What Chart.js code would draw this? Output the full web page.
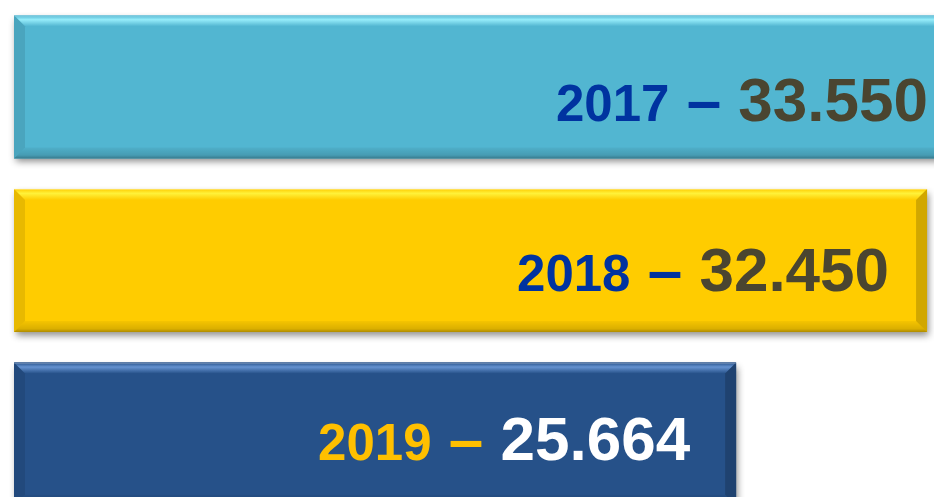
<!DOCTYPE html>
<html>
<head>
<meta charset="utf-8">
<script src="https://cdn.jsdelivr.net/npm/chart.js@4.4.1/dist/chart.umd.min.js"></script>
<style>
  html, body { margin: 0; padding: 0; background: #fff; overflow: hidden; }
  #wrap { position: absolute; left: 0; top: 0; width: 960px; height: 521px; }
</style>
</head>
<body>
<div id="wrap"><canvas id="yearsChart"></canvas></div>
<script>
// ===== DATA =====
const years = ['2017', '2018', '2019'];
const totals = [33550, 32450, 25664];

// ===== STYLE =====
const barColors = ['#52B6D1', '#FFCC00', '#265189'];
const highlightColors = ['#96ECFA', '#FFF23A', '#6592D0'];
const yearColors = ['#0033A0', '#0033A0', '#FFC000'];
const totalColors = ['#4A4530', '#4A4530', '#FFFFFF'];

function formatTotal(v) {
    return String(v).replace(/\B(?=(\d{3})+(?!\d))/g, '.');
}

// soft drop shadow under each bar
const shadowPlugin = {
    id: 'barShadow',
    beforeDatasetsDraw(chart) {
        const ctx = chart.ctx;
        const bars = chart.getDatasetMeta(0).data;
        ctx.save();
        bars.forEach(function(bar, i){
            const top = bar.y - bar.height / 2;
            ctx.shadowColor = 'rgba(0,0,0,0.45)';
            ctx.shadowBlur = 7;
            ctx.shadowOffsetX = 2;
            ctx.shadowOffsetY = 4;
            ctx.fillStyle = barColors[i];
            ctx.fillRect(bar.base, top, bar.x - bar.base, bar.height);
        });
        ctx.restore();
    }
};

// bevelled edges + year/total labels
const bevelPlugin = {
    id: 'bevel',
    afterDatasetsDraw(chart) {
        const ctx = chart.ctx;
        const bars = chart.getDatasetMeta(0).data;
        const b = 11;
        bars.forEach(function(bar, i){
            const l = bar.base, r = bar.x;
            const t = bar.y - bar.height / 2, btm = bar.y + bar.height / 2;
            ctx.save();

            // top edge (light band)
            let g = ctx.createLinearGradient(0, t, 0, t + b);
            g.addColorStop(0, barColors[i]);
            g.addColorStop(0.4, highlightColors[i]);
            g.addColorStop(1, barColors[i]);
            ctx.fillStyle = g;
            ctx.beginPath();
            ctx.moveTo(l, t); ctx.lineTo(r, t); ctx.lineTo(r - b, t + b); ctx.lineTo(l + b, t + b);
            ctx.closePath(); ctx.fill();
            ctx.fillStyle = 'rgba(255,255,255,0.35)';
            ctx.fillRect(l, t, r - l, 1);

            // left edge
            ctx.fillStyle = 'rgba(0,0,0,0.09)';
            ctx.beginPath();
            ctx.moveTo(l, t); ctx.lineTo(l + b, t + b); ctx.lineTo(l + b, btm - b); ctx.lineTo(l, btm);
            ctx.closePath(); ctx.fill();

            // right edge
            ctx.fillStyle = 'rgba(0,0,0,0.18)';
            ctx.beginPath();
            ctx.moveTo(r, t); ctx.lineTo(r - b, t + b); ctx.lineTo(r - b, btm - b); ctx.lineTo(r, btm);
            ctx.closePath(); ctx.fill();

            // bottom edge (dark)
            g = ctx.createLinearGradient(0, btm - b, 0, btm);
            g.addColorStop(0, 'rgba(0,0,0,0.04)');
            g.addColorStop(0.7, 'rgba(0,0,0,0.14)');
            g.addColorStop(1, 'rgba(0,0,0,0.32)');
            ctx.fillStyle = g;
            ctx.beginPath();
            ctx.moveTo(l, btm); ctx.lineTo(r, btm); ctx.lineTo(r - b, btm - b); ctx.lineTo(l + b, btm - b);
            ctx.closePath(); ctx.fill();

            // label: "year – total", right aligned inside the bar
            const yearFont = 'bold 51px "Liberation Sans", Arial, sans-serif';
            const bigFont = 'bold 62px "Liberation Sans", Arial, sans-serif';
            const totalText = formatTotal(totals[i]);
            const dashText = ' \u2013 ';
            ctx.font = bigFont;
            const wTotal = ctx.measureText(totalText).width;
            const wDash = ctx.measureText(dashText).width;
            ctx.font = yearFont;
            const wYear = ctx.measureText(years[i]).width;
            const right = Math.min(r, chart.chartArea.right) - 30 - i * 8;
            const baseline = bar.y + 34 - i * 4;
            let x = right - wTotal - wDash - wYear;
            ctx.textBaseline = 'alphabetic';
            ctx.textAlign = 'left';
            ctx.fillStyle = yearColors[i];
            ctx.fillText(years[i], x, baseline);
            x += wYear;
            ctx.font = bigFont;
            ctx.fillText(dashText, x, baseline);
            x += wDash;
            ctx.fillStyle = totalColors[i];
            ctx.fillText(totalText, x, baseline);

            ctx.restore();
        });
    }
};

const ctx = document.getElementById('yearsChart').getContext('2d');

new Chart(ctx, {
    type: 'bar',
    data: {
        labels: years,
        datasets: [{
            data: totals,
            backgroundColor: barColors,
            borderWidth: 0,
            categoryPercentage: 1,
            barPercentage: 0.824
        }]
    },
    options: {
        indexAxis: 'y',
        responsive: true,
        maintainAspectRatio: false,
        animation: false,
        layout: { padding: { left: 14, right: 2, top: 0, bottom: 0 } },
        plugins: {
            legend: { display: false },
            tooltip: { enabled: false }
        },
        scales: {
            x: { display: false, min: 0, max: 33550 },
            y: { display: false }
        }
    },
    plugins: [shadowPlugin, bevelPlugin]
});
</script>
</body>
</html>
